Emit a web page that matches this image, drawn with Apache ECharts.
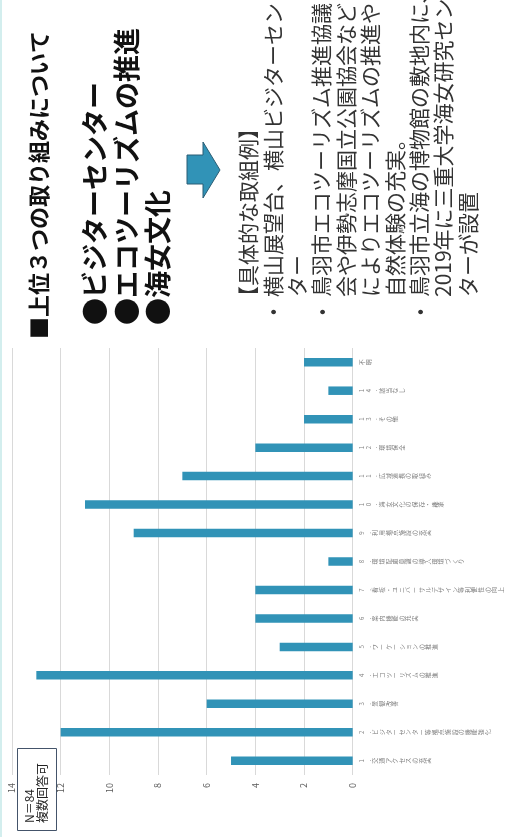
<!DOCTYPE html>
<html lang="ja">
<head>
    <meta charset="UTF-8">
    <title>上位３つの取り組みについて</title>
    <script src="https://cdn.jsdelivr.net/npm/echarts@6/dist/echarts.min.js"></script>
    <style>
        html, body, #chart {
            width: 522px;
            height: 837px;
            padding: 0;
            margin: 0;
            background: #fff;
        }
    </style>
</head>
<body>
<div id="chart"></div>
<script>
    // 項目（下から上の順）
    var categories = [
        "1.交通アクセスの充実",
        "2.ビジターセンター等拠点施設の機能強化",
        "3.景観改善",
        "4.エコツーリズムの推進",
        "5.ワーケーションの推進",
        "6.案内機能の充実",
        "7.看板・ユニバーサルデザイン等利便性の向上",
        "8.環境配慮意識の導入環境づくり",
        "9.利用拠点施設の充実",
        "10.海女文化の保存・継承",
        "11.広域連携の取組み",
        "12.環境保全",
        "13.その他",
        "14.該当なし",
        "不明"
    ];
    var counts = [5, 12, 6, 13, 3, 4, 4, 1, 9, 11, 7, 4, 2, 1, 2];

    var titleText = "■上位３つの取り組みについて";
    var topThree = ["●ビジターセンター", "●エコツーリズムの推進", "●海女文化"];
    var exampleHead = "【具体的な取組例】";
    var exampleLines = [
        "横山展望台、横山ビジターセン",
        "ター",
        "鳥羽市エコツーリズム推進協議",
        "会や伊勢志摩国立公園協会など",
        "によりエコツーリズムの推進や",
        "自然体験の充実。",
        "鳥羽市立海の博物館の敷地内に、",
        "2019年に三重大学海女研究セン",
        "ターが設置"
    ];
    var bulletLines = [0, 2, 6];
    var noteText = "N＝84\n複数回答可";

    var FONT = "'Noto Sans CJK JP', 'Noto Sans', sans-serif";
    var BLUE = "#3193b7";
    var UP = Math.PI / 2;

    var graphics = [];
    // left edge stripe
    graphics.push({
        type: "rect", shape: {x: 0, y: 0, width: 2, height: 837},
        style: {fill: "#d3eeee"}, silent: true
    });
    graphics.push({
        type: "text", x: 28, y: 339, rotation: UP,
        style: {
            text: titleText, fontFamily: FONT, fontSize: 22, fontWeight: "bold",
            fill: "#111", align: "left", verticalAlign: "top", lineHeight: 22
        }
    });
    graphics.push({
        type: "text", x: 79, y: 325, rotation: UP,
        style: {
            text: topThree.join("\n"), fontFamily: FONT, fontSize: 27, fontWeight: "bold",
            fill: "#111", align: "left", verticalAlign: "top", lineHeight: 31.5
        }
    });
    // arrow
    graphics.push({
        type: "polygon",
        shape: {points: [[187, 155], [203, 155], [203, 142], [220, 170], [203, 198], [203, 184], [187, 184]]},
        style: {fill: BLUE, stroke: "#2b5d74", lineWidth: 1}
    });
    graphics.push({
        type: "text", x: 236, y: 307, rotation: UP,
        style: {
            text: exampleHead, fontFamily: FONT, fontSize: 21,
            fill: "#333", align: "left", verticalAlign: "top", lineHeight: 24.4
        }
    });
    graphics.push({
        type: "text", x: 260.4, y: 297, rotation: UP,
        style: {
            text: exampleLines.join("\n"), fontFamily: FONT, fontSize: 21,
            fill: "#333", align: "left", verticalAlign: "top", lineHeight: 24.4
        }
    });
    bulletLines.forEach(function (i) {
        graphics.push({
            type: "text", x: 272.6 + i * 24.4, y: 312, rotation: UP,
            style: {
                text: "•", fontFamily: FONT, fontSize: 18, fill: "#333",
                align: "center", verticalAlign: "middle"
            }
        });
    });
    // N box
    graphics.push({
        type: "rect", z: 100,
        shape: {x: 17.5, y: 748.5, width: 39, height: 82},
        style: {fill: "#fff", stroke: "#44546a", lineWidth: 1}
    });
    graphics.push({
        type: "text", z: 101, x: 23, y: 823, rotation: UP,
        style: {
            text: noteText, fontFamily: FONT, fontSize: 12,
            fill: "#222", align: "left", verticalAlign: "top", lineHeight: 13
        }
    });

    var chart = echarts.init(document.getElementById("chart"), null, {width: 522, height: 837});
    chart.setOption({
        animation: false,
        grid: {left: 12, right: 169.3, top: 348, bottom: 62, outerBoundsMode: "none"},
        xAxis: {
            type: "value", inverse: true, min: 0, max: 14, interval: 2,
            axisLine: {show: false}, axisTick: {show: false},
            splitLine: {lineStyle: {color: "#d9d9d9", width: 1}},
            axisLabel: {rotate: 90, margin: 8, fontSize: 9, color: "#595959", fontFamily: FONT}
        },
        yAxis: {
            type: "category", position: "right", data: categories,
            axisLine: {show: false}, axisTick: {show: false}, splitLine: {show: false},
            axisLabel: {
                interval: 0, rotate: 90, margin: 6, fontSize: 6, lineHeight: 6.6,
                color: "#7f7f7f", fontFamily: FONT,
                formatter: function (v) { return v.split("").join("\n"); }
            }
        },
        graphic: graphics,
        series: [{
            type: "bar", data: counts, barWidth: 8.5,
            itemStyle: {color: BLUE}
        }]
    });
</script>
</body>
</html>
